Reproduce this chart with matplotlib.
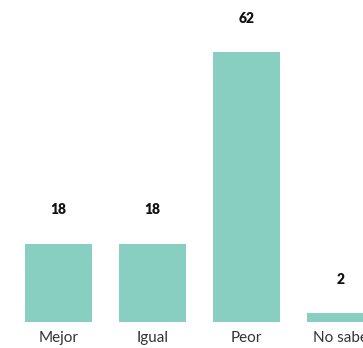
import matplotlib.pyplot as plt

categorias = ['Mejor', 'Igual', 'Peor', 'No sabe']
valores = [18, 18, 62, 2]

fig = plt.figure(figsize=(3.63, 3.48), dpi=100)
ax = fig.add_axes([0, 26 / 348, 1, 322 / 348])

x = range(len(categorias))
barras = ax.bar(x, valores, width=0.713, color='#88cfc2')

for b, v in zip(barras, valores):
    ax.annotate(str(v), (b.get_x() + b.get_width() / 2, b.get_height()),
                xytext=(0, 24.5), textcoords='offset points',
                ha='center', va='center', fontsize=10, fontweight='heavy',
                family='Lato', color='#111111')

ax.set_xlim(-0.622, 3.239)
ax.set_ylim(0, 74)
ax.set_xticks(list(x))
ax.set_xticklabels(categorias, fontsize=11, family='Lato', color='#333333')
ax.tick_params(axis='x', length=0, pad=6.5)
ax.set_yticks([])
for s in ax.spines.values():
    s.set_visible(False)

fig.savefig('out.png', dpi=100)
